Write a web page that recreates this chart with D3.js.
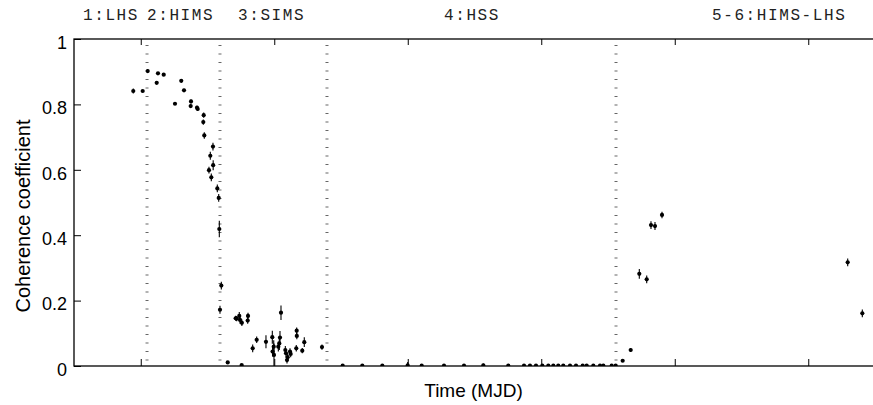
<!DOCTYPE html>
<html>
<head>
<meta charset="utf-8">
<script src="https://cdn.jsdelivr.net/npm/d3@7"></script>
<style>
  html, body { margin: 0; padding: 0; background: #fff; }
  svg { display: block; }
</style>
</head>
<body>
<svg id="chart" width="873" height="405"></svg>
<script>
// Observation times (MJD) and the coherence coefficient measured at each one
const mjd = [
  55298.88, 55300.29, 55301.04, 55302.58, 55303.44, 55302.39, 55306.07, 55306.48,
  55305.13, 55307.53, 55307.48, 55308.43, 55308.53, 55309.43, 55309.37, 55309.52,
  55310.82, 55310.42, 55310.85, 55310.22, 55310.57, 55311.47, 55311.68, 55311.77,
  55312.07, 55311.87, 55313.03, 55315.12, 55314.22, 55314.37, 55314.76, 55314.87,
  55315.15, 55316.07, 55316.02, 55316.77, 55317.37, 55318.76, 55319.71, 55319.75,
  55319.96, 55319.92, 55321.01, 55320.86, 55320.76, 55320.61, 55321.66, 55321.76,
  55321.91, 55322.01, 55322.36, 55322.46, 55323.30, 55323.36, 55323.38, 55324.20,
  55324.50, 55327.15,
  55330.25, 55333.19, 55336.19, 55339.99, 55342.09, 55345.43, 55348.43, 55351.32,
  55355.06, 55357.42, 55358.31, 55359.21, 55360.16, 55361.06, 55361.81, 55362.55,
  55363.30, 55364.31, 55365.21, 55366.21, 55366.81, 55367.80, 55368.80, 55369.30,
  55370.55, 55371.15,
  55372.20, 55373.40, 55374.69, 55375.80, 55376.44, 55377.04, 55378.09,
  55405.91, 55408.10
];
const coherence = [
  0.841, 0.841, 0.902, 0.895, 0.891, 0.866, 0.872, 0.843,
  0.802, 0.809, 0.795, 0.790, 0.786, 0.767, 0.746, 0.705,
  0.671, 0.643, 0.614, 0.599, 0.577, 0.543, 0.514, 0.419,
  0.246, 0.172, 0.011, 0.003, 0.146, 0.145, 0.153, 0.141,
  0.132, 0.153, 0.139, 0.054, 0.080, 0.074, 0.088, 0.044,
  0.034, 0.059, 0.163, 0.087, 0.069, 0.059, 0.049, 0.039,
  0.018, 0.027, 0.044, 0.037, 0.054, 0.108, 0.092, 0.047,
  0.073, 0.058,
  0.001, 0.001, 0.001, 0.002, 0.001, 0.001, 0.001, 0.002,
  0.001, 0.001, 0.001, 0.001, 0.001, 0.001, 0.001, 0.001,
  0.001, 0.001, 0.001, 0.001, 0.001, 0.001, 0.001, 0.001,
  0.001, 0.001,
  0.016, 0.049, 0.282, 0.265, 0.431, 0.428, 0.462,
  0.317, 0.161
];
// 1-sigma uncertainty on each coefficient
const coherenceErr = [
  0.008, 0.004, 0.006, 0.004, 0.004, 0.004, 0.005, 0.005,
  0.004, 0.006, 0.006, 0.006, 0.006, 0.008, 0.008, 0.010,
  0.012, 0.012, 0.015, 0.010, 0.012, 0.012, 0.012, 0.025,
  0.012, 0.012, 0.003, 0.003, 0.008, 0.008, 0.012, 0.012,
  0.010, 0.010, 0.010, 0.012, 0.010, 0.020, 0.020, 0.015,
  0.035, 0.020, 0.022, 0.020, 0.020, 0.015, 0.012, 0.012,
  0.010, 0.010, 0.010, 0.010, 0.010, 0.010, 0.010, 0.008,
  0.015, 0.008,
  0.002, 0.002, 0.002, 0.010, 0.002, 0.002, 0.002, 0.006,
  0.002, 0.002, 0.002, 0.002, 0.002, 0.002, 0.002, 0.002,
  0.002, 0.002, 0.002, 0.002, 0.002, 0.002, 0.002, 0.002,
  0.002, 0.002,
  0.004, 0.006, 0.015, 0.012, 0.012, 0.012, 0.010,
  0.012, 0.012
];

// State transitions (MJD) and state labels with their start times
const transitions = [55300.94, 55311.87, 55327.90, 55371.20];
const stateNames = ["1:LHS", "2:HIMS", "3:SIMS", "4:HSS", "5-6:HIMS-LHS"];
const stateLabelMjd = [55291.35, 55300.94, 55314.57, 55345.43, 55385.58];

// Axis ticks
const xTickValues = [55300, 55320, 55340, 55360, 55380, 55400];
const yTickValues = [0, 0.2, 0.4, 0.6, 0.8, 1];
const yTickLabels = ["0", "0.2", "0.4", "0.6", "0.8", "1"];

const points = mjd.map((t, i) => ({ t, v: coherence[i], e: coherenceErr[i] }));

const svg = d3.select("#chart");
const plotLeft = 74, plotTop = 39, plotBottom = 366, plotRight = 941.75;

const x = d3.scaleLinear().domain([55290, 55420]).range([plotLeft, plotRight]);
const y = d3.scaleLinear().domain([0, 1]).range([plotBottom, plotTop]);

svg.append("defs").append("clipPath").attr("id", "plot-area")
  .append("rect").attr("x", plotLeft).attr("y", plotTop)
  .attr("width", plotRight - plotLeft).attr("height", plotBottom - plotTop);

// State labels along the top
svg.append("g")
  .selectAll("text")
  .data(stateNames)
  .join("text")
  .attr("x", (d, i) => x(stateLabelMjd[i]))
  .attr("y", 19.5)
  .attr("font-family", "'Liberation Mono', 'Courier New', monospace")
  .attr("font-size", 16)
  .attr("letter-spacing", "1.6px")
  .attr("fill", "#222")
  .text(d => d);

// Dotted transition markers
svg.append("g")
  .selectAll("line")
  .data(transitions)
  .join("line")
  .attr("x1", d => x(d)).attr("x2", d => x(d))
  .attr("y1", plotTop + 6).attr("y2", plotBottom)
  .attr("stroke", "#666")
  .attr("stroke-width", 3)
  .attr("stroke-dasharray", "1,7.5");

// Y axis (ticks pointing inward)
const yAxis = d3.axisLeft(y)
  .tickValues(yTickValues)
  .tickFormat((d, i) => yTickLabels[i])
  .tickSizeInner(-7)
  .tickSizeOuter(0)
  .tickPadding(7);
const gy = svg.append("g").attr("transform", `translate(${plotLeft},0)`).call(yAxis);
gy.select(".domain").remove();
gy.selectAll("line").attr("stroke", "#000").attr("stroke-width", 1);
gy.selectAll("text")
  .attr("font-family", "'Liberation Sans', Arial, sans-serif")
  .attr("font-size", 18)
  .attr("fill", "#000")
  .attr("dy", "0.52em");

// Bottom and top axes: inward ticks, no labels
const xBottom = d3.axisBottom(x).tickValues(xTickValues).tickFormat("")
  .tickSizeInner(-7).tickSizeOuter(0);
const gxb = svg.append("g").attr("transform", `translate(0,${plotBottom})`).call(xBottom);
gxb.select(".domain").remove();
gxb.selectAll("line").attr("stroke", "#000").attr("stroke-width", 1);

const xTop = d3.axisTop(x).tickValues(xTickValues).tickFormat("")
  .tickSizeInner(-6).tickSizeOuter(0);
const gxt = svg.append("g").attr("transform", `translate(0,${plotTop})`).call(xTop);
gxt.select(".domain").remove();
gxt.selectAll("line").attr("stroke", "#000").attr("stroke-width", 1);

// Plot frame
svg.append("rect")
  .attr("x", plotLeft).attr("y", plotTop)
  .attr("width", plotRight - plotLeft).attr("height", plotBottom - plotTop)
  .attr("fill", "none").attr("stroke", "#000").attr("stroke-width", 1.3);

// Data: error bars and markers
const plot = svg.append("g").attr("clip-path", "url(#plot-area)");
plot.selectAll("line.err")
  .data(points)
  .join("line")
  .attr("class", "err")
  .attr("x1", d => x(d.t)).attr("x2", d => x(d.t))
  .attr("y1", d => y(d.v - d.e)).attr("y2", d => y(d.v + d.e))
  .attr("stroke", "#000").attr("stroke-width", 1.1);
plot.selectAll("circle")
  .data(points)
  .join("circle")
  .attr("cx", d => x(d.t)).attr("cy", d => y(d.v))
  .attr("r", 2.1)
  .attr("fill", "#000");

// Axis titles
svg.append("text")
  .attr("transform", `translate(30,216) rotate(-90)`)
  .attr("text-anchor", "middle")
  .attr("font-family", "'Liberation Sans', Arial, sans-serif")
  .attr("font-size", 20)
  .attr("fill", "#000")
  .text("Coherence coefficient");

svg.append("text")
  .attr("x", (plotLeft + 873) / 2)
  .attr("y", 397)
  .attr("text-anchor", "middle")
  .attr("font-family", "'Liberation Sans', Arial, sans-serif")
  .attr("font-size", 19)
  .attr("fill", "#000")
  .text("Time (MJD)");
</script>
</body>
</html>
